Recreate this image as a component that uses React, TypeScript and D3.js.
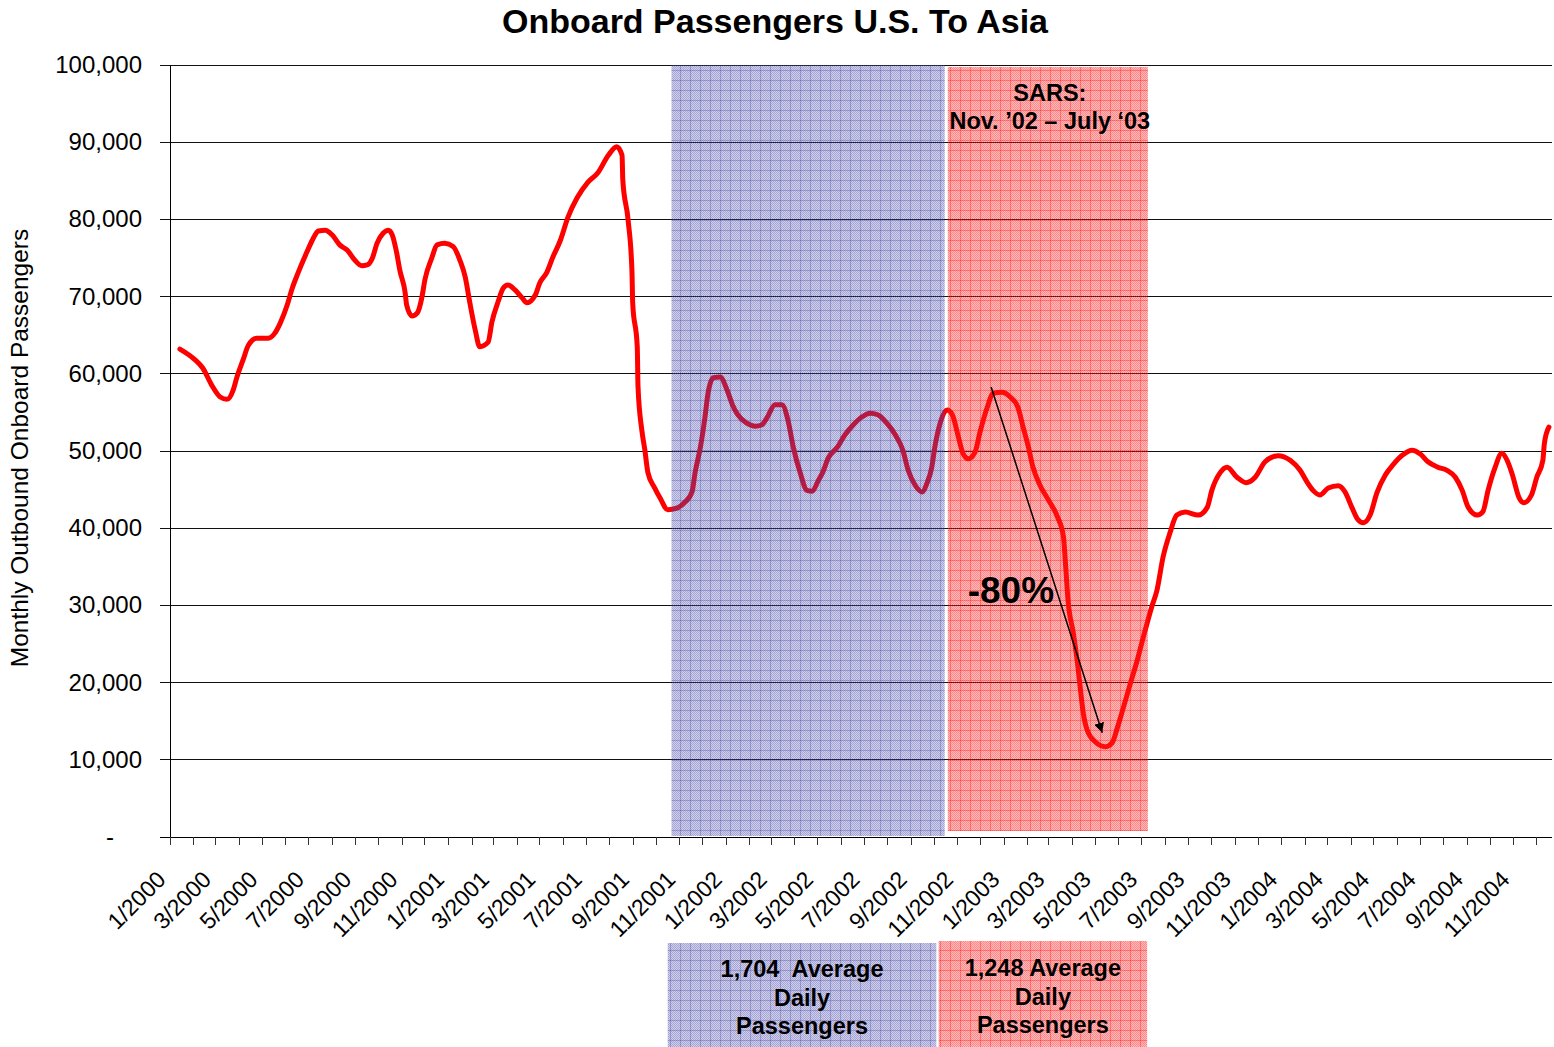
import React from "react";
import * as d3 from "d3";

// days counted from 1 Jan 2000
const dayOffset = [
  13, 33, 43, 55, 66, 75, 83, 88, 96, 103, 114, 129, 138, 145, 154, 160, 168, 180, 187, 195,
  204, 213, 223, 233, 243, 252, 259, 266, 272, 280, 287, 292, 298, 302, 309, 311, 318, 325, 331, 335,
  344, 351, 361, 372, 381, 388, 394, 401, 407, 418, 423, 431, 438, 444, 453, 463, 469, 480, 486, 495,
  503, 513, 523, 535, 549, 562, 576, 587, 594, 595, 602, 607, 608, 614, 615, 620, 624, 628, 637, 644,
  654, 666, 677, 686, 690, 697, 703, 707, 714, 723, 732, 739, 746, 758, 769, 778, 785, 795, 804, 812,
  819, 828, 837, 844, 852, 858, 865, 877, 887, 898, 909, 920, 930, 942, 953, 963, 970, 979, 988, 995,
  1001, 1005, 1012, 1021, 1028, 1036, 1042, 1049, 1058, 1064, 1074, 1082, 1093, 1104, 1114, 1121, 1128, 1134, 1143, 1154,
  1166, 1174, 1177, 1180, 1187, 1192, 1196, 1200, 1205, 1216, 1229, 1238, 1245, 1252, 1262, 1271, 1279, 1290, 1297, 1305,
  1314, 1323, 1334, 1351, 1363, 1369, 1380, 1389, 1402, 1414, 1426, 1439, 1456, 1472, 1485, 1494, 1502, 1511, 1522, 1535,
  1544, 1553, 1561, 1568, 1577, 1586, 1597, 1607, 1620, 1632, 1643, 1653, 1666, 1678, 1689, 1698, 1706, 1718, 1725, 1732,
  1741, 1750, 1757, 1764, 1773, 1779, 1789, 1796, 1804, 1806, 1812,
];

const passengers = [
  63200, 61800, 60750, 58500, 57000, 56700, 57900, 59600, 61800, 63700, 64600, 64600, 65300, 66600, 68900, 70900, 73000, 75800, 77300, 78500,
  78600, 78000, 76700, 76000, 74700, 74000, 74100, 75000, 76900, 78200, 78600, 78000, 75600, 73400, 70500, 68900, 67500, 67900, 69900, 72200,
  75000, 76700, 76900, 76500, 74700, 72500, 69200, 65700, 63500, 64100, 66700, 69300, 71100, 71500, 70900, 69800, 69200, 70200, 71800, 73100,
  75100, 77300, 80300, 82800, 84800, 86000, 88300, 89400, 88300, 85100, 79900, 73400, 69200, 63500, 58300, 52700, 50100, 47200, 45200, 43900,
  42400, 42600, 43400, 44700, 47200, 50500, 54400, 57500, 59500, 59600, 57900, 56000, 54700, 53600, 53200, 53400, 54400, 56000, 56000, 54000,
  50500, 47200, 44900, 44800, 46200, 47300, 49100, 50500, 52100, 53400, 54400, 54900, 54700, 53600, 52100, 50100, 47500, 45600, 44700, 45900,
  47900, 50500, 53600, 55300, 54700, 51800, 49700, 49000, 49900, 52300, 55700, 57500, 57600, 57000, 55700, 53100, 50500, 47900, 45600, 43700,
  41500, 38900, 35000, 30700, 26400, 22900, 19400, 16100, 13900, 12300, 11700, 12200, 14200, 16500, 19900, 22900, 25900, 29800, 32000, 36300,
  39400, 41700, 42100, 41700, 42700, 44900, 47200, 47900, 46600, 45900, 46600, 48600, 49400, 48800, 47500, 46000, 44900, 44300, 45200, 45500,
  44700, 42700, 41100, 40700, 41700, 44600, 46900, 48200, 49500, 50100, 49600, 48600, 47900, 47500, 46600, 44900, 42700, 41700, 42100, 44900,
  47800, 49700, 48800, 46900, 43900, 43300, 44300, 46600, 48800, 51000, 53100,
];

const yTicks = [0, 10000, 20000, 30000, 40000, 50000, 60000, 70000, 80000, 90000, 100000];

const xTickLabels = [
  "1/2000", "3/2000", "5/2000", "7/2000", "9/2000", "11/2000",
  "1/2001", "3/2001", "5/2001", "7/2001", "9/2001", "11/2001",
  "1/2002", "3/2002", "5/2002", "7/2002", "9/2002", "11/2002",
  "1/2003", "3/2003", "5/2003", "7/2003", "9/2003", "11/2003",
  "1/2004", "3/2004", "5/2004", "7/2004", "9/2004", "11/2004",
];

// shaded periods and the boxes under the axis
const blueBand = ["2001-10-21", "2002-10-15"];
const redBand = ["2002-10-19", "2003-07-09"];
const blueBox = ["2001-10-16", "2002-10-04"];
const redBox = ["2002-10-07", "2003-07-08"];
const blueBoxText = ["1,704\u00a0 Average", "Daily", "Passengers"];
const redBoxText = ["1,248 Average", "Daily", "Passengers"];
const sarsText = ["SARS:", "Nov. \u201902 \u2013 July \u201803"];

// arrow: [day, value] start and end
const arrowFrom = [1079, 58300];
const arrowTo = [1225, 13500];
const dropLabel = { day: 1105, value: 32000, text: "-80%" };

const W = 1554;
const H = 1047;
const font = "Arial, 'Liberation Sans', Helvetica, sans-serif";

export default function App() {
  const start = new Date(2000, 0, 1);
  const toDate = (d: number) => d3.timeDay.offset(start, d);
  const parseIso = d3.timeParse("%Y-%m-%d");
  const parseTick = d3.timeParse("%m/%Y");

  const x = d3.scaleTime().domain([start, new Date(2004, 11, 21)]).range([170, 1552]);
  const y = d3.scaleLinear().domain([0, 100000]).range([837, 65]);

  const points = dayOffset.map((d, i) => [toDate(d), passengers[i]] as [Date, number]);
  const line = d3
    .line<[Date, number]>()
    .x((d) => x(d[0]))
    .y((d) => y(d[1]))
    .curve(d3.curveMonotoneX);

  const monthTicks = d3.timeMonth.range(start, new Date(2004, 11, 22));
  const fmt = d3.format(",");

  const bx0 = x(parseIso(blueBand[0])!);
  const bx1 = x(parseIso(blueBand[1])!);
  const rx0 = x(parseIso(redBand[0])!);
  const rx1 = x(parseIso(redBand[1])!);
  const bb0 = x(parseIso(blueBox[0])!);
  const bb1 = x(parseIso(blueBox[1])!);
  const rb0 = x(parseIso(redBox[0])!);
  const rb1 = x(parseIso(redBox[1])!);

  const ax0 = x(toDate(arrowFrom[0]));
  const ay0 = y(arrowFrom[1]);
  const ax1 = x(toDate(arrowTo[0]));
  const ay1 = y(arrowTo[1]);

  return (
    <svg
      width={W}
      height={H}
      style={{ position: "absolute", left: 0, top: 0, background: "#fff" }}
      fontFamily={font}
    >
      <defs>
        <pattern id="blueChk" width="2" height="2" patternUnits="userSpaceOnUse">
          <rect width="2" height="2" fill="rgb(70,70,170)" fillOpacity={0.26} />
          <rect width="1" height="1" fill="rgb(70,70,170)" fillOpacity={0.3} />
          <rect x="1" y="1" width="1" height="1" fill="rgb(70,70,170)" fillOpacity={0.3} />
        </pattern>
        <pattern id="blueGrid" width="10" height="10" patternUnits="userSpaceOnUse">
          <rect width="10" height="1" fill="rgb(50,50,150)" fillOpacity={0.28} />
          <rect width="1" height="10" fill="rgb(50,50,150)" fillOpacity={0.28} />
        </pattern>
        <pattern id="redChk" width="2" height="2" patternUnits="userSpaceOnUse">
          <rect width="2" height="2" fill="rgb(255,30,30)" fillOpacity={0.3} />
          <rect width="1" height="1" fill="rgb(255,30,30)" fillOpacity={0.32} />
          <rect x="1" y="1" width="1" height="1" fill="rgb(255,30,30)" fillOpacity={0.32} />
        </pattern>
        <pattern id="redGrid" width="10" height="10" patternUnits="userSpaceOnUse">
          <rect width="10" height="1" fill="rgb(255,0,0)" fillOpacity={0.32} />
          <rect width="1" height="10" fill="rgb(255,0,0)" fillOpacity={0.32} />
        </pattern>
        <marker id="arrowHead" viewBox="0 0 10 10" refX="10" refY="5" markerWidth="10" markerHeight="10" orient="auto" markerUnits="userSpaceOnUse">
          <path d="M0,0 L10,5 L0,10 z" fill="#000" />
        </marker>
      </defs>

      {/* title */}
      <text x={775} y={33} textAnchor="middle" fontSize={34} fontWeight="bold">
        Onboard Passengers U.S. To Asia
      </text>

      {/* y axis title */}
      <text transform={`translate(28,448) rotate(-90)`} textAnchor="middle" fontSize={24.5}>
        Monthly Outbound Onboard Passengers
      </text>

      {/* gridlines and y ticks */}
      {yTicks.map((t) => (
        <g key={t} shapeRendering="crispEdges">
          {t > 0 && <line x1={170} x2={1552} y1={y(t)} y2={y(t)} stroke="#111" strokeWidth={1} />}
          <line x1={160} x2={170} y1={y(t)} y2={y(t)} stroke="#111" strokeWidth={1} />
          <text x={t === 0 ? 114 : 142} y={y(t) + 8} textAnchor="end" fontSize={24}>
            {t === 0 ? "-" : fmt(t)}
          </text>
        </g>
      ))}

      {/* axes */}
      <g shapeRendering="crispEdges">
        <line x1={170} x2={170} y1={65} y2={837} stroke="#000" />
        <line x1={160} x2={1552} y1={837} y2={837} stroke="#000" />
        {monthTicks.map((m) => (
          <line key={+m} x1={x(m)} x2={x(m)} y1={837} y2={845} stroke="#333" />
        ))}
      </g>
      {xTickLabels.map((l) => {
        const px = x(parseTick(l)!) - 3;
        return (
          <text key={l} transform={`translate(${px},881) rotate(-45)`} textAnchor="end" fontSize={23}>
            {l}
          </text>
        );
      })}

      {/* data line */}
      <path
        d={line(points) ?? ""}
        fill="none"
        stroke="#ff0000"
        strokeWidth={5}
        strokeLinejoin="round"
        strokeLinecap="round"
      />

      {/* shaded periods */}
      <rect x={bx0} y={y(100000)} width={bx1 - bx0} height={y(0) - y(100000) - 1} fill="url(#blueChk)" />
      <rect x={bx0} y={y(100000)} width={bx1 - bx0} height={y(0) - y(100000) - 1} fill="url(#blueGrid)" />
      <rect x={rx0} y={y(100000) + 2} width={rx1 - rx0} height={y(0) - y(100000) - 8} fill="url(#redChk)" />
      <rect x={rx0} y={y(100000) + 2} width={rx1 - rx0} height={y(0) - y(100000) - 8} fill="url(#redGrid)" />

      {/* SARS label */}
      {sarsText.map((s, i) => (
        <text key={s} x={(rx0 + rx1) / 2 + 2} y={101 + i * 28} textAnchor="middle" fontSize={23.5} fontWeight="bold">
          {s}
        </text>
      ))}

      {/* drop arrow */}
      <line x1={ax0} y1={ay0} x2={ax1} y2={ay1} stroke="#000" strokeWidth={1.5} markerEnd="url(#arrowHead)" />
      <text x={x(toDate(dropLabel.day))} y={y(dropLabel.value) + 13} textAnchor="middle" fontSize={37} fontWeight="bold">
        {dropLabel.text}
      </text>

      {/* boxes below the axis */}
      <rect x={bb0} y={943} width={bb1 - bb0} height={H - 943} fill="url(#blueChk)" />
      <rect x={bb0} y={943} width={bb1 - bb0} height={H - 943} fill="url(#blueGrid)" />
      <rect x={rb0} y={941} width={rb1 - rb0} height={H - 941} fill="url(#redChk)" />
      <rect x={rb0} y={941} width={rb1 - rb0} height={H - 941} fill="url(#redGrid)" />
      {blueBoxText.map((s, i) => (
        <text key={s} x={(bb0 + bb1) / 2} y={977 + i * 28.5} textAnchor="middle" fontSize={23.5} fontWeight="bold">
          {s}
        </text>
      ))}
      {redBoxText.map((s, i) => (
        <text key={s} x={(rb0 + rb1) / 2} y={976 + i * 28.5} textAnchor="middle" fontSize={23.5} fontWeight="bold">
          {s}
        </text>
      ))}
    </svg>
  );
}
